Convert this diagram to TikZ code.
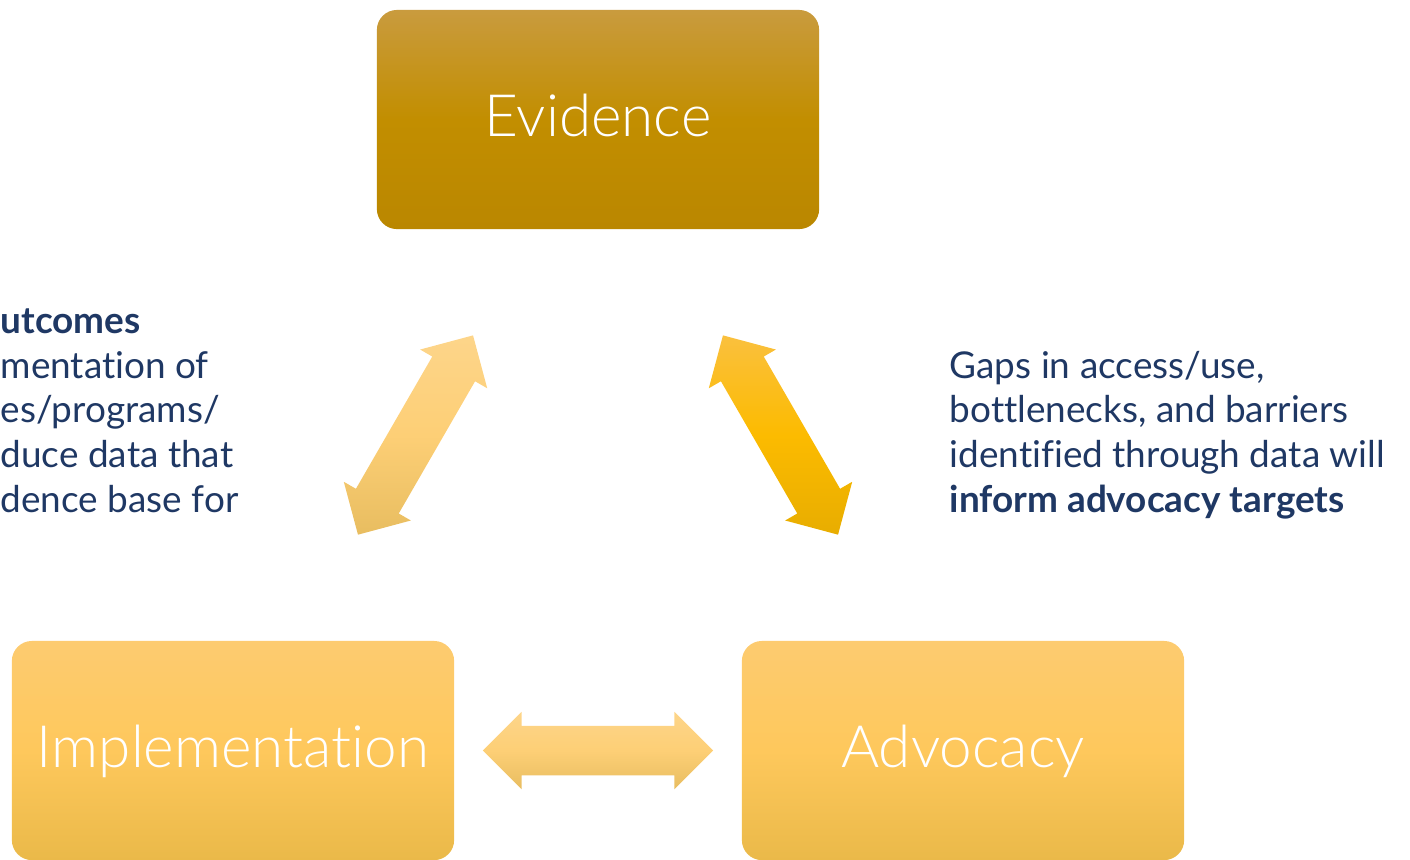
\documentclass[tikz,border=0pt]{standalone}
\usepackage{fontspec}
\setmainfont{Lato}[Ligatures=NoCommon]
\newfontfamily\lightfont{Lato Light}[Ligatures=NoCommon]
\usetikzlibrary{calc, shapes.arrows}

\definecolor{navy}{RGB}{31,56,100}
\definecolor{evtop}{RGB}{201,155,62}
\definecolor{evmid}{RGB}{194,142,0}
\definecolor{evbot}{RGB}{186,135,0}
\definecolor{boxtop}{RGB}{253,203,112}
\definecolor{boxmid}{RGB}{254,200,92}
\definecolor{boxbot}{RGB}{234,185,73}
\definecolor{paletop}{RGB}{253,213,138}
\definecolor{palemid}{RGB}{253,207,118}
\definecolor{palebot}{RGB}{232,189,96}
\definecolor{ambertop}{RGB}{250,192,62}
\definecolor{ambermid}{RGB}{252,187,0}
\definecolor{amberbot}{RGB}{232,173,0}

\begin{document}
\begin{tikzpicture}[x=0.01cm, y=-0.01cm,
    box node/.style={rectangle, rounded corners=0.2cm, minimum width=4.42cm, minimum height=2.19cm, inner sep=0pt,
        text=white, font=\lightfont\fontsize{16.6}{19}\selectfont, text height=0.34cm, text depth=0pt},
    light box/.style={box node, top color=boxtop, bottom color=boxbot, middle color=boxmid},
    arrow node/.style={double arrow, double arrow head extend=0.14cm, inner xsep=0pt, inner ysep=0.24cm,
        minimum width=0pt, minimum height=2.30cm},
    note node/.style={align=left, text=navy, inner sep=0pt, font=\fontsize{10.5}{12.7}\selectfont}]
\useasboundingbox (0,0) rectangle (1410,859);

\node[box node, top color=evtop, bottom color=evbot, middle color=evmid] (evidence) at (598,119.5) {Evidence};
\node[light box] (implementation) at (233,750.5) {Implementation};
\node[light box] (advocacy) at (963,750.5) {Advocacy};

\node[arrow node, rotate=60, top color=paletop, bottom color=palebot, middle color=palemid]
    (evimp) at ($(evidence)!0.5!(implementation)$) {};
\node[arrow node, rotate=-60, top color=ambertop, bottom color=amberbot, middle color=ambermid]
    (evadv) at ($(evidence)!0.5!(advocacy)$) {};
\node[arrow node, top color=paletop, bottom color=palebot, middle color=palemid]
    (impadv) at ($(implementation)!0.5!(advocacy)$) {};

% notes, anchored at the baseline of their last line
\node[note node, anchor=base west] (leftnote) at (0,512)
    {\textbf{utcomes}\\mentation of\\es/programs/\\duce data that\\dence base for};
\node[note node, anchor=base west] (rightnote) at (949,512)
    {Gaps in access/use,\\bottlenecks, and barriers\\identified through data will\\\textbf{inform advocacy targets}};
\end{tikzpicture}
\end{document}
